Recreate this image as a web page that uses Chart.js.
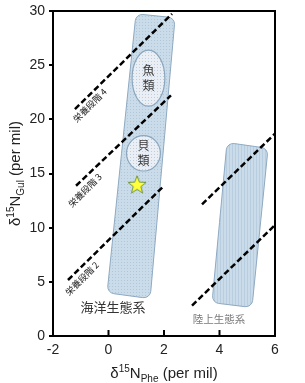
<!DOCTYPE html>
<html lang="ja">
<head>
<meta charset="utf-8"/>
<title>δ15N Gul vs Phe</title>
<script src="https://cdn.jsdelivr.net/npm/chart.js"></script>
<style>
  html, body { margin: 0; padding: 0; background: #fff; }
  #wrap { width: 305px; height: 383px; }
</style>
</head>
<body>
<div id="wrap"><canvas id="c"></canvas></div>
<script>
// ── DATA ─────────────────────────────────────────
const xTicks = [-2, 0, 2, 4, 6];
const yTicks = [0, 5, 10, 15, 20, 25, 30];

// trophic level lines (start -> end)
const lineNames = ['栄養段階 4', '栄養段階 3', '栄養段階 2', '', ''];
const lineX0 = [-1.21, -1.17, -1.46, 3.37, 3.01];
const lineY0 = [20.94, 13.87, 5.17, 12.15, 2.81];
const lineX1 = [2.29, 2.25, 2.00, 6.00, 6.00];
const lineY1 = [29.74, 22.21, 13.87, 18.68, 10.24];

// ecosystem ranges, corners TL, TR, BR, BL
const bandNames = ['海洋生態系', '陸上生態系'];
const marineX = [0.99, 2.40, 1.50, -0.05];
const marineY = [29.74, 29.37, 3.45, 3.99];
const landX = [4.27, 5.75, 5.17, 3.73];
const landY = [17.86, 17.32, 2.63, 3.08];

// organism groups: centre and half widths
const groupNames = ['魚類', '貝類'];
const groupX = [1.44, 1.26];
const groupY = [23.8, 16.86];
const groupRx = [0.59, 0.61];
const groupRy = [2.58, 1.63];

// the sample (star)
const starX = [1.03];
const starY = [13.96];
// ──────────────────────────────────────────────────

// where the annotation texts sit (data coords)
const lineLabelX = [-0.67, -0.85, -0.955];
const lineLabelY = [21.3, 13.45, 5.3];
const bandLabelX = [0.16, 3.98];
const bandLabelY = [2.63, 1.54];

const CJK = '"Noto Sans CJK JP", "Noto Sans", sans-serif';
const LAT = '"Liberation Sans", Arial, sans-serif';

// star marker
const starImg = document.createElement('canvas');
starImg.width = 22; starImg.height = 22;
(function() {
  const g = starImg.getContext('2d');
  g.beginPath();
  for (let i = 0; i < 10; i++) {
    const r = i % 2 ? 4 : 9.5;
    const a = -Math.PI / 2 + i * Math.PI / 5;
    g.lineTo(11 + r * Math.cos(a), 11.5 + r * Math.sin(a));
  }
  g.closePath();
  g.fillStyle = '#ffff3a';
  g.fill();
  g.strokeStyle = '#6e9440';
  g.lineWidth = 1;
  g.stroke();
})();

function makePattern(ctx, base, dot, kind) {
  const c = document.createElement('canvas');
  c.width = 3; c.height = 3;
  const g = c.getContext('2d');
  g.fillStyle = base; g.fillRect(0, 0, 3, 3);
  g.fillStyle = dot;
  if (kind === 'dots') g.fillRect(1, 1, 1, 1);
  else g.fillRect(1, 0, 1, 3);
  return ctx.createPattern(c, 'repeat');
}

function roundPoly(ctx, pts, r) {
  const n = pts.length;
  ctx.beginPath();
  ctx.moveTo((pts[n - 1][0] + pts[0][0]) / 2, (pts[n - 1][1] + pts[0][1]) / 2);
  for (let i = 0; i < n; i++) {
    const a = pts[i], b = pts[(i + 1) % n];
    ctx.arcTo(a[0], a[1], b[0], b[1], r);
  }
  ctx.closePath();
}

function richText(ctx, parts, cx, cy) {
  let w = 0;
  parts.forEach(p => { ctx.font = p.s + 'px ' + LAT; w += ctx.measureText(p.t).width; });
  let x = cx - w / 2;
  ctx.textAlign = 'left';
  ctx.textBaseline = 'alphabetic';
  parts.forEach(p => {
    ctx.font = p.s + 'px ' + LAT;
    ctx.fillText(p.t, x, cy + 5 + p.dy);
    x += ctx.measureText(p.t).width;
  });
}

const backdrop = {
  id: 'backdrop',
  beforeDatasetsDraw(chart) {
    const { ctx, scales: { x, y } } = chart;
    const bands = [[marineX, marineY, 'dots'], [landX, landY, 'lines']];
    bands.forEach(([bx, by, kind]) => {
      const pts = bx.map((v, i) => [x.getPixelForValue(v), y.getPixelForValue(by[i])]);
      ctx.save();
      roundPoly(ctx, pts, 7);
      ctx.fillStyle = makePattern(ctx, '#cadcea', kind === 'dots' ? '#b0c7d9' : '#b8cee0', kind);
      ctx.fill();
      ctx.strokeStyle = '#8ea9c1';
      ctx.lineWidth = 1;
      ctx.stroke();
      ctx.restore();
    });
  },
  afterDatasetsDraw(chart) {
    const { ctx, scales: { x, y }, chartArea: a } = chart;
    ctx.save();
    // organism groups
    groupNames.forEach((name, i) => {
      const cx = x.getPixelForValue(groupX[i]);
      const cy = y.getPixelForValue(groupY[i]);
      const rx = Math.abs(x.getPixelForValue(groupX[i] + groupRx[i]) - cx);
      const ry = Math.abs(y.getPixelForValue(groupY[i] + groupRy[i]) - cy);
      ctx.beginPath();
      ctx.ellipse(cx, cy, rx, ry, 0, 0, Math.PI * 2);
      ctx.fillStyle = makePattern(ctx, '#e9eff5', '#bfcddb', 'dots');
      ctx.fill();
      ctx.strokeStyle = '#8ba6bd';
      ctx.lineWidth = 1.2;
      ctx.stroke();
      ctx.fillStyle = '#3a3a3a';
      ctx.font = '12px ' + CJK;
      ctx.textAlign = 'center';
      ctx.textBaseline = 'middle';
      ctx.fillText(name[0], cx, cy - 7.5);
      ctx.fillText(name[1], cx, cy + 7.5);
    });

    // trophic level labels along the lines
    ctx.font = '9px ' + CJK;
    ctx.fillStyle = '#222';
    ctx.textAlign = 'center';
    ctx.textBaseline = 'middle';
    lineLabelX.forEach((lx, i) => {
      ctx.save();
      ctx.translate(x.getPixelForValue(lx), y.getPixelForValue(lineLabelY[i]));
      ctx.rotate(-Math.PI / 4);
      ctx.fillText(lineNames[i], 0, 0);
      ctx.restore();
    });

    // ecosystem labels
    ctx.font = '13px ' + CJK;
    ctx.fillStyle = '#333';
    ctx.fillText(bandNames[0], x.getPixelForValue(bandLabelX[0]), y.getPixelForValue(bandLabelY[0]));
    ctx.font = '10.5px ' + CJK;
    ctx.fillStyle = '#7a7a7a';
    ctx.fillText(bandNames[1], x.getPixelForValue(bandLabelX[1]), y.getPixelForValue(bandLabelY[1]));

    // frame and inward x ticks
    ctx.strokeStyle = '#000';
    ctx.lineWidth = 2;
    ctx.strokeRect(a.left, a.top, a.right - a.left, a.bottom - a.top);
    xTicks.forEach(v => {
      const px = x.getPixelForValue(v);
      ctx.beginPath();
      ctx.moveTo(px, a.bottom);
      ctx.lineTo(px, a.bottom - 6);
      ctx.stroke();
    });
    ctx.restore();
  },
  afterDraw(chart) {
    const { ctx, chartArea: a } = chart;
    ctx.save();
    ctx.fillStyle = '#222';
    richText(ctx, [
      { t: 'δ', s: 15, dy: 0 }, { t: '15', s: 10, dy: -6 }, { t: 'N', s: 15, dy: 0 },
      { t: 'Phe', s: 10, dy: 4 }, { t: ' (per mil)', s: 15, dy: 0 }
    ], (a.left + a.right) / 2, 373);
    ctx.translate(15, (a.top + a.bottom) / 2);
    ctx.rotate(-Math.PI / 2);
    richText(ctx, [
      { t: 'δ', s: 15, dy: 0 }, { t: '15', s: 10, dy: -6 }, { t: 'N', s: 15, dy: 0 },
      { t: 'Gul', s: 10, dy: 4 }, { t: ' (per mil)', s: 15, dy: 0 }
    ], 0, 0);
    ctx.restore();
  }
};

const lineSets = lineX0.map((x0, i) => ({
  data: [{ x: x0, y: lineY0[i] }, { x: lineX1[i], y: lineY1[i] }],
  showLine: true,
  borderColor: '#000',
  borderWidth: 2.5,
  borderDash: [6, 3],
  pointRadius: 0
}));

new Chart(document.getElementById('c'), {
  type: 'scatter',
  data: {
    datasets: [
      ...lineSets,
      {
        data: starX.map((v, i) => ({ x: v, y: starY[i] })),
        pointStyle: starImg,
        pointRadius: 10
      }
    ]
  },
  options: {
    responsive: true,
    maintainAspectRatio: false,
    animation: false,
    layout: { padding: { top: 5, right: 30, left: 0, bottom: 0 } },
    plugins: { legend: { display: false }, tooltip: { enabled: false } },
    scales: {
      x: {
        type: 'linear', min: -2, max: 6,
        afterBuildTicks: s => { s.ticks = xTicks.map(v => ({ value: v })); },
        afterFit: s => { s.height = 47; s.paddingLeft = 0; s.paddingRight = 0; },
        grid: { drawOnChartArea: false, drawTicks: false },
        border: { display: false },
        ticks: { padding: 6, color: '#222', maxRotation: 0, font: { size: 14, family: LAT } }
      },
      y: {
        type: 'linear', min: 0, max: 30,
        afterBuildTicks: s => { s.ticks = yTicks.map(v => ({ value: v })); },
        afterFit: s => { s.width = 53; s.paddingTop = 0; s.paddingBottom = 0; },
        grid: { drawOnChartArea: false, drawTicks: true, tickLength: 4, color: '#000', lineWidth: 2 },
        border: { display: false },
        ticks: { padding: 4, color: '#222', font: { size: 14, family: LAT } }
      }
    }
  },
  plugins: [backdrop]
});
</script>
</body>
</html>
